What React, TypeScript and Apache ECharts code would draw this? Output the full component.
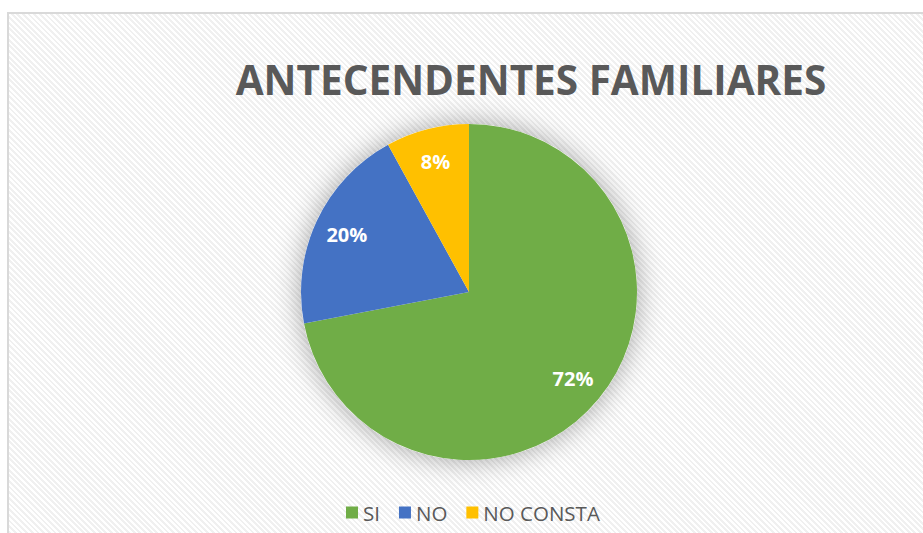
import React, { useEffect, useRef } from "react";
import * as echarts from "echarts";

const title = "ANTECENDENTES FAMILIARES";
const categories = ["SI", "NO", "NO CONSTA"];
const values = [72, 20, 8];
const colors = ["#70AD47", "#4472C4", "#FFC000"];

export default function App() {
  const ref = useRef<HTMLDivElement>(null);
  useEffect(() => {
    if (!ref.current) return;
    const chart = echarts.init(ref.current, undefined, { renderer: "svg" });
    const data = categories.map((name, i) => ({ name, value: values[i], itemStyle: { color: colors[i] } }));
    chart.setOption({
      animation: false,
      backgroundColor: "transparent",
      title: {
        text: title,
        left: 526,
        textAlign: "center",
        top: 54,
        textStyle: { fontFamily: "Open Sans", fontWeight: "bold", fontSize: 40.5, color: "#595959" },
      },
      legend: {
        data: categories,
        left: 341,
        bottom: 5,
        icon: "rect",
        itemWidth: 12,
        itemHeight: 12,
        itemGap: 19,
        textStyle: { fontFamily: "Open Sans", fontSize: 20.5, color: "#595959" },
      },
      series: [
        {
          type: "pie",
          name: "shadow",
          silent: true,
          center: [469, 292],
          radius: [0, 168],
          startAngle: 90,
          z: 1,
          label: { show: false },
          itemStyle: { color: "#ffffff", shadowBlur: 28, shadowColor: "rgba(0,0,0,0.35)" },
          data: [{ name: "_", value: 1 }],
          legendHoverLink: false,
        },
        {
          type: "pie",
          name: "main",
          center: [469, 292],
          radius: [0, 168],
          startAngle: 90,
          clockwise: true,
          z: 2,
          label: { show: false },
          labelLine: { show: false },
          itemStyle: { borderWidth: 0 },
          data,
        },
        {
          type: "pie",
          name: "labels",
          silent: true,
          center: [469, 292],
          radius: [96, 168],
          startAngle: 90,
          clockwise: true,
          z: 3,
          itemStyle: { color: "rgba(0,0,0,0)" },
          label: {
            show: true,
            position: "inside",
            formatter: (p: any) => `${p.value}%`,
            fontFamily: "Open Sans",
            fontWeight: "bold",
            fontSize: 20,
            color: "#ffffff",
          },
          labelLine: { show: false },
          legendHoverLink: false,
          data: categories.map((name, i) => ({ name: name + " ", value: values[i] })),
        },
      ],
    });
    return () => chart.dispose();
  }, []);
  return (
    <div style={{ position: "fixed", left: 0, top: 0, width: 923, height: 533, background: "#ffffff", overflow: "hidden" }}>
      <div
        style={{
          position: "absolute",
          left: 7,
          top: 12,
          width: 960,
          height: 560,
          boxSizing: "border-box",
          border: "2px solid #d9d9d9",
          background:
            "repeating-linear-gradient(45deg, #ffffff 0px, #ffffff 2px, #f0f0f0 2px, #f0f0f0 4px)",
        }}
      />
      <div ref={ref} style={{ position: "absolute", left: 0, top: 0, width: 923, height: 533 }} />
    </div>
  );
}
